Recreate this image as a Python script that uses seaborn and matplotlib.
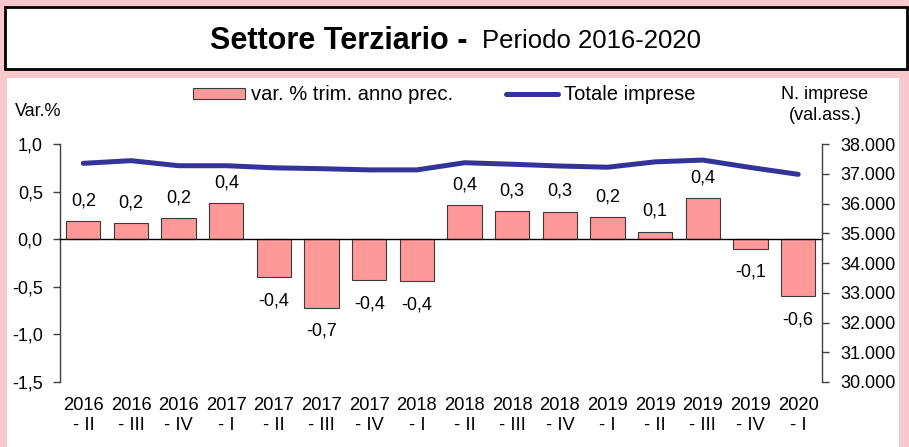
import numpy as np
import pandas as pd
import matplotlib
matplotlib.use("Agg")
import matplotlib.pyplot as plt
import matplotlib.transforms as mtransforms
from matplotlib.patches import Rectangle
from matplotlib.ticker import FuncFormatter
import seaborn as sns

# ---- data ----
years = ["2016", "2016", "2016", "2017", "2017", "2017", "2017", "2018",
         "2018", "2018", "2018", "2019", "2019", "2019", "2019", "2020"]
quarters = ["II", "III", "IV", "I", "II", "III", "IV", "I",
            "II", "III", "IV", "I", "II", "III", "IV", "I"]
var_pct = [0.19, 0.17, 0.22, 0.38, -0.40, -0.72, -0.43, -0.44,
           0.36, 0.30, 0.29, 0.23, 0.08, 0.43, -0.10, -0.60]
totale = [37350, 37440, 37270, 37270, 37200, 37170, 37130, 37130,
          37370, 37320, 37260, 37220, 37400, 37460, 37210, 36980]
left_ticks = [-1.5, -1.0, -0.5, 0.0, 0.5, 1.0]
right_ticks = [30000, 31000, 32000, 33000, 34000, 35000, 36000, 37000, 38000]

categories = [f"{y}\n- {q}" for y, q in zip(years, quarters)]
df = pd.DataFrame({"cat": categories, "var": var_pct, "tot": totale})

sns.set_style("white")
plt.rcParams["font.family"] = ["Liberation Sans", "DejaVu Sans"]
plt.rcParams["text.color"] = "black"
plt.rcParams["xtick.color"] = "black"
plt.rcParams["ytick.color"] = "black"
plt.rcParams["axes.labelcolor"] = "black"

W, H = 909, 447
PINK = "#F8C8CC"
BAR = "#FF9999"
LINE = "#333399"
fig = plt.figure(figsize=(W / 100, H / 100), dpi=100, facecolor=PINK)

def fx(px):
    return px / W

def fy(py):
    return 1 - py / H

# title box and white panel
fig.patches.append(Rectangle((fx(5), fy(69)), fx(902), 62 / H, transform=fig.transFigure,
                             facecolor="white", edgecolor="black", linewidth=2.0, zorder=-5))
fig.patches.append(Rectangle((fx(7), 0), fx(892), fy(78), transform=fig.transFigure,
                             facecolor="white", edgecolor="none", zorder=-5))

fig.text(fx(210), fy(41), "Settore Terziario -", fontsize=22, fontweight="bold",
         ha="left", va="center")
fig.text(fx(482), fy(41.5), "Periodo 2016-2020", fontsize=18.5, ha="left", va="center")

ax = fig.add_axes([fx(59.5), fy(382), fx(762.5), 238 / H])
ax.set_facecolor("none")

sns.barplot(data=df, x="cat", y="var", color=BAR, saturation=1, edgecolor="#3a3a3a",
            linewidth=0.8, width=0.72, ax=ax)
ax.set_xlim(-0.5, 15.5)
ax.set_ylim(-1.5, 1.0)
ax.set_yticks(left_ticks)
ax.yaxis.set_major_formatter(FuncFormatter(lambda v, p: f"{v:.1f}".replace(".", ",")))
ax.set_xlabel("")
ax.set_ylabel("")

for s in ["top", "right"]:
    ax.spines[s].set_visible(False)
ax.spines["left"].set_color("#404040")
ax.spines["left"].set_linewidth(1.0)
ax.spines["bottom"].set_position(("data", 0))
ax.spines["bottom"].set_color("black")
ax.spines["bottom"].set_linewidth(1.0)
ax.set_xticks(np.arange(0.5, 15, 1))
ax.tick_params(axis="x", labelbottom=False, length=5, width=1, direction="out", color="#404040")
ax.tick_params(axis="y", labelsize=13, length=5, width=1, direction="out", color="#404040",
               pad=7, left=True)

# category labels
trans = mtransforms.blended_transform_factory(ax.transData, ax.transAxes)
for i, lab in enumerate(categories):
    ax.text(i, -15 / 238, lab, transform=trans, ha="center", va="top", fontsize=13.2,
            linespacing=1.2)

# data labels
for i, v in enumerate(var_pct):
    txt = f"{v:.1f}".replace(".", ",")
    if v >= 0:
        ax.annotate(txt, (i, v), xytext=(0, 14.5), textcoords="offset points",
                    ha="center", va="center", fontsize=13)
    else:
        ax.annotate(txt, (i, v), xytext=(0, -17), textcoords="offset points",
                    ha="center", va="center", fontsize=13)

ax2 = ax.twinx()
ax2.set_facecolor("none")
sns.lineplot(x=np.arange(len(totale)), y=totale, ax=ax2, color=LINE, linewidth=3.6,
             solid_capstyle="round")
ax2.set_ylim(30000, 38000)
ax2.set_yticks(right_ticks)
ax2.yaxis.set_major_formatter(FuncFormatter(lambda v, p: f"{int(v):,}".replace(",", ".")))
for s in ["top", "left", "bottom"]:
    ax2.spines[s].set_visible(False)
ax2.spines["right"].set_color("#404040")
ax2.spines["right"].set_linewidth(1.0)
ax2.tick_params(axis="y", labelsize=13, length=5, width=1, direction="out", color="#404040",
                pad=8.5, right=True)
ax2.set_ylabel("")
ax.set_xlim(-0.5, 15.5)

# axis titles
fig.text(fx(15), fy(112), "Var.%", fontsize=13, ha="left", va="center")
fig.text(fx(825), fy(105), "N. imprese\n(val.ass.)", fontsize=13, ha="center", va="center",
         linespacing=1.25)

# legend
handles = [ax.patches[0], ax2.lines[0]]
labels = ["var. % trim. anno prec.", "Totale imprese"]
fig.legend(handles, labels, loc="center left", bbox_to_anchor=(fx(193), fy(95)),
           ncol=2, frameon=False, fontsize=14.5, handlelength=2.6, handleheight=0.5,
           handletextpad=0.3, columnspacing=2.6, borderpad=0, borderaxespad=0)

fig.savefig("out.png", dpi=100, facecolor=PINK)
